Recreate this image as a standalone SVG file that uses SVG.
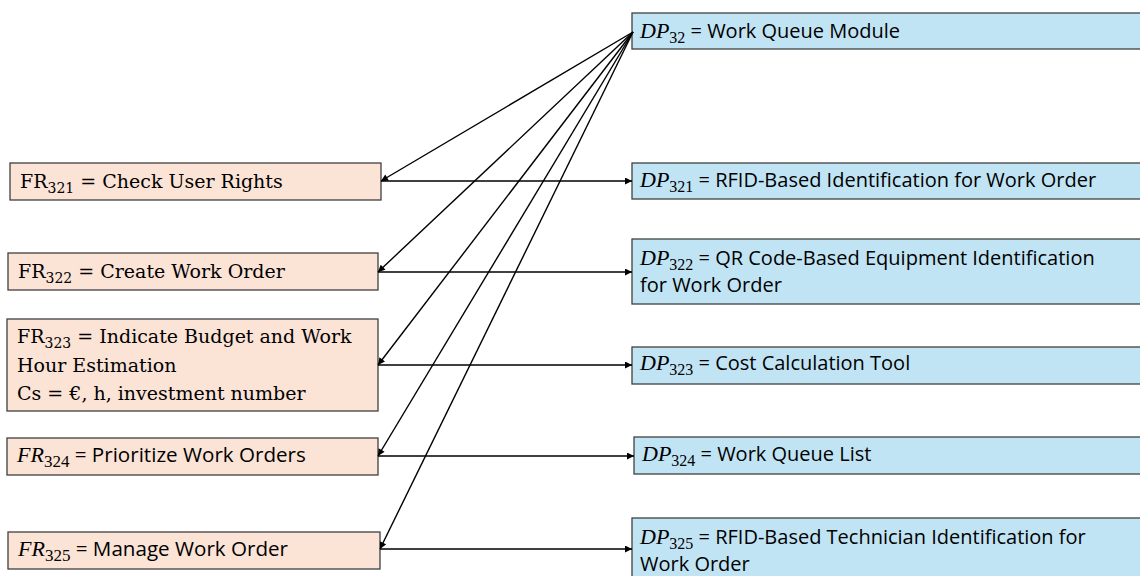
<svg xmlns="http://www.w3.org/2000/svg" width="1140" height="576" viewBox="0 0 1140 576">
  <style>
    .fr { fill: #fbe3d6; stroke: #404040; stroke-width: 1.3; }
    .dp { fill: #c1e4f5; stroke: #404040; stroke-width: 1.3; }
    .serif { font-family: "DejaVu Serif", "Liberation Serif", serif; font-size: 19px; fill: #000; }
    .sans { font-family: "Open Sans", "Liberation Sans", Arial, sans-serif; font-size: 20px; fill: #000; }
    .sans.wide { font-size: 20.6px; }
    .mi { font-family: "Liberation Serif", "DejaVu Serif", serif; font-style: italic; font-size: 22px; }
    .sub { font-family: "Liberation Serif", "DejaVu Serif", serif; font-style: normal; font-size: 16px; }
    .wide .sub { font-size: 17px; }
    .serif .sub { font-family: "DejaVu Serif", "Liberation Serif", serif; font-size: 14px; }
    .link { fill: none; stroke: #000; stroke-width: 1.4; }
  </style>
  <defs>
    <marker id="arrow" viewBox="0 0 10 10" refX="10" refY="5" markerWidth="8" markerHeight="7" markerUnits="userSpaceOnUse" orient="auto">
      <path d="M0,0 L10,5 L0,10 z" fill="#000"/>
    </marker>
  </defs>

  <rect width="1140" height="576" fill="#fff"/>

  <!-- functional requirements -->
  <g id="fr321">
    <rect class="fr" x="10" y="163" width="371" height="37"/>
    <text class="serif" x="20" y="188">FR<tspan class="sub" dy="5">321</tspan><tspan dy="-5"> = Check User Rights</tspan></text>
  </g>
  <g id="fr322">
    <rect class="fr" x="8" y="253" width="370" height="37"/>
    <text class="serif" x="18" y="278">FR<tspan class="sub" dy="5">322</tspan><tspan dy="-5"> = Create Work Order</tspan></text>
  </g>
  <g id="fr323">
    <rect class="fr" x="7" y="319" width="371" height="92"/>
    <text class="serif" x="17" y="343">FR<tspan class="sub" dy="5">323</tspan><tspan dy="-5"> = Indicate Budget and Work</tspan></text>
    <text class="serif" x="17" y="372">Hour Estimation</text>
    <text class="serif" x="17" y="400">Cs = €, h, investment number</text>
  </g>
  <g id="fr324">
    <rect class="fr" x="7" y="438" width="371" height="37"/>
    <text class="sans wide" x="17" y="462"><tspan class="mi">FR</tspan><tspan class="sub" dy="5">324</tspan><tspan dy="-5"> = Prioritize Work Orders</tspan></text>
  </g>
  <g id="fr325">
    <rect class="fr" x="8" y="532" width="372" height="37"/>
    <text class="sans wide" x="18" y="556"><tspan class="mi">FR</tspan><tspan class="sub" dy="5">325</tspan><tspan dy="-5"> = Manage Work Order</tspan></text>
  </g>

  <!-- design parameters -->
  <g id="dp32">
    <rect class="dp" x="632" y="13" width="515" height="36"/>
    <text class="sans" x="640" y="38"><tspan class="mi">DP</tspan><tspan class="sub" dy="5">32</tspan><tspan dy="-5"> = Work Queue Module</tspan></text>
  </g>
  <g id="dp321">
    <rect class="dp" x="632" y="163" width="515" height="36"/>
    <text class="sans" x="640" y="187"><tspan class="mi">DP</tspan><tspan class="sub" dy="5">321</tspan><tspan dy="-5"> = RFID-Based Identification for Work Order</tspan></text>
  </g>
  <g id="dp322">
    <rect class="dp" x="632" y="239" width="515" height="65"/>
    <text class="sans" x="640" y="265"><tspan class="mi">DP</tspan><tspan class="sub" dy="5">322</tspan><tspan dy="-5"> = QR Code-Based Equipment Identification</tspan></text>
    <text class="sans" x="640" y="292">for Work Order</text>
  </g>
  <g id="dp323">
    <rect class="dp" x="632" y="347" width="515" height="37"/>
    <text class="sans" x="640" y="370"><tspan class="mi">DP</tspan><tspan class="sub" dy="5">323</tspan><tspan dy="-5"> = Cost Calculation Tool</tspan></text>
  </g>
  <g id="dp324">
    <rect class="dp" x="634" y="437" width="515" height="37"/>
    <text class="sans" x="642" y="461"><tspan class="mi">DP</tspan><tspan class="sub" dy="5">324</tspan><tspan dy="-5"> = Work Queue List</tspan></text>
  </g>
  <g id="dp325">
    <rect class="dp" x="632" y="518" width="515" height="62"/>
    <text class="sans" x="640" y="544"><tspan class="mi">DP</tspan><tspan class="sub" dy="5">325</tspan><tspan dy="-5"> = RFID-Based Technician Identification for</tspan></text>
    <text class="sans" x="640" y="571">Work Order</text>
  </g>

  <!-- connectors -->
  <g id="connectors">
    <line class="link" x1="633" y1="32" x2="381" y2="181" marker-end="url(#arrow)"/>
    <line class="link" x1="633" y1="32" x2="378" y2="272" marker-end="url(#arrow)"/>
    <line class="link" x1="633" y1="32" x2="378" y2="365" marker-end="url(#arrow)"/>
    <line class="link" x1="633" y1="32" x2="378" y2="456" marker-end="url(#arrow)"/>
    <line class="link" x1="633" y1="32" x2="380" y2="549" marker-end="url(#arrow)"/>

    <line class="link" x1="381" y1="181" x2="632" y2="181" marker-end="url(#arrow)"/>
    <line class="link" x1="378" y1="272" x2="632" y2="272" marker-end="url(#arrow)"/>
    <line class="link" x1="378" y1="365" x2="632" y2="365" marker-end="url(#arrow)"/>
    <line class="link" x1="378" y1="456" x2="634" y2="456" marker-end="url(#arrow)"/>
    <line class="link" x1="380" y1="549" x2="632" y2="549" marker-end="url(#arrow)"/>
  </g>
</svg>
